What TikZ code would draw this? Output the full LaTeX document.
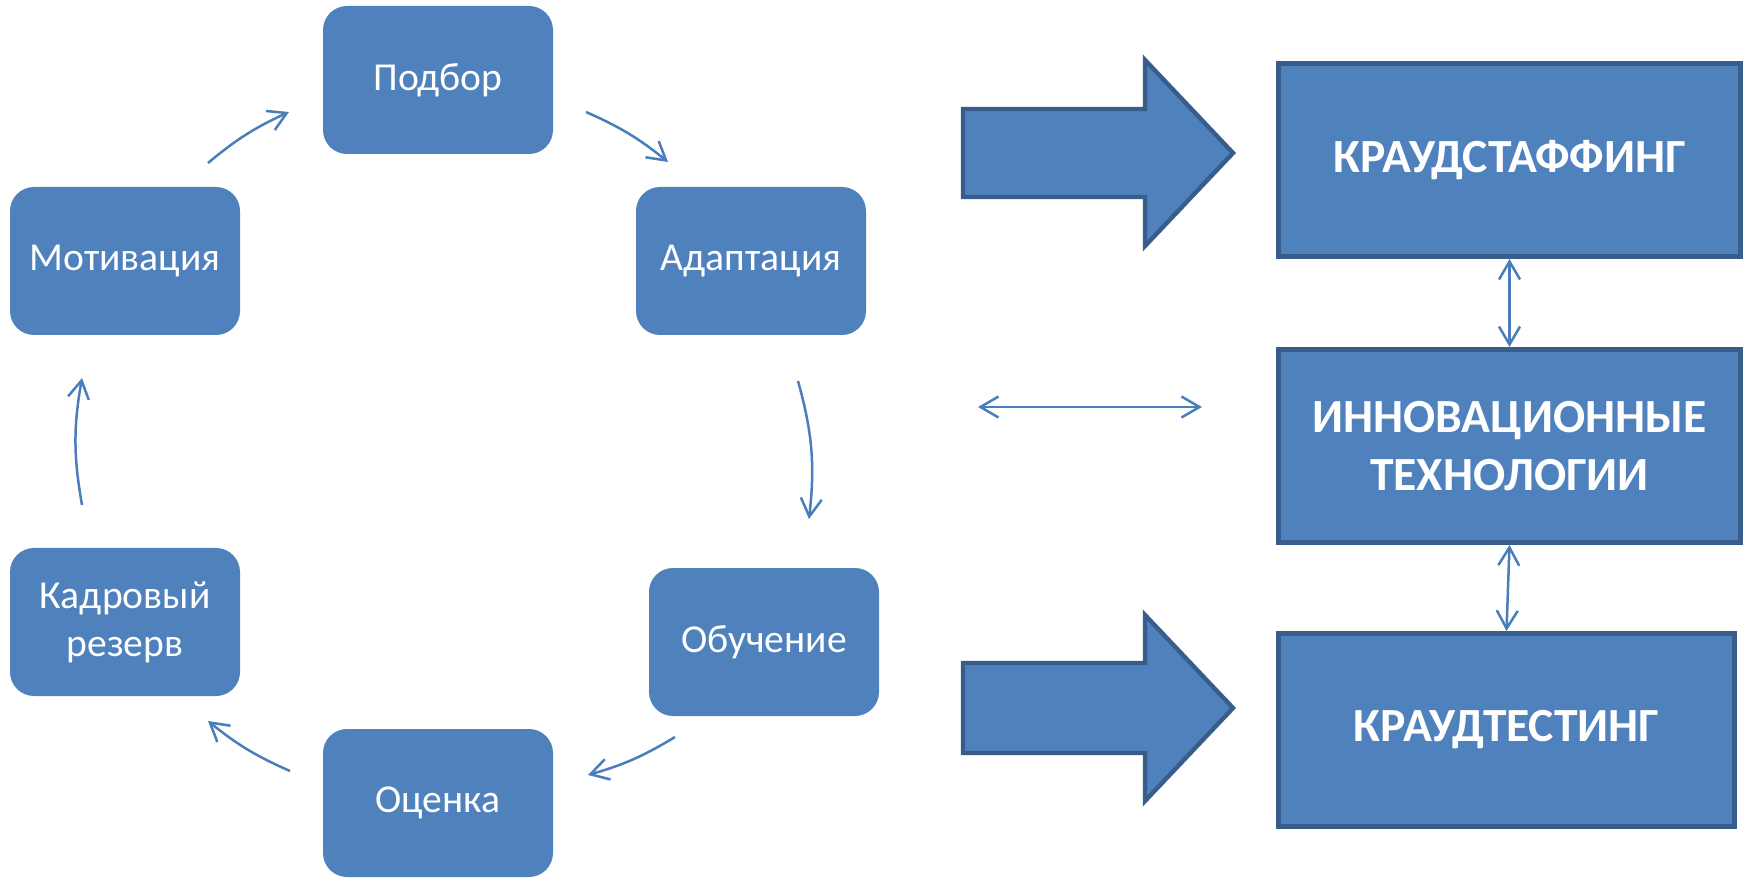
\documentclass[tikz,border=0pt]{standalone}
\usepackage{fontspec}
\setmainfont{Carlito}
\usetikzlibrary{arrows.meta}
\definecolor{boxfill}{HTML}{4F81BD}
\definecolor{boxline}{HTML}{385D8A}
\definecolor{conn}{HTML}{4A7EBB}
\tikzset{
  stage/.style={rounded corners=12pt, fill=boxfill, text=white, minimum width=115pt, minimum height=74pt,
    align=center, font=\fontsize{19.8pt}{24pt}\selectfont, inner sep=0pt},
  bigbox/.style={fill=boxfill, draw=boxline, line width=2.5pt, text=white, minimum height=96.5pt,
    align=center, font=\fontsize{23.8pt}{29pt}\selectfont\bfseries, inner sep=0pt},
  blockarrow/.style={fill=boxfill, draw=boxline, line width=2.2pt, line join=miter},
  cyc/.style={draw=conn, line width=1.25pt, -{Straight Barb[length=9pt,width=10.5pt]}},
  dbl/.style={draw=conn, line width=1.25pt, {Straight Barb[length=9pt,width=10.5pt]}-{Straight Barb[length=9pt,width=10.5pt]}}
}
\begin{document}
\begin{tikzpicture}[x=0.5pt,y=0.5pt]
\useasboundingbox (0,0) rectangle (1745,879);
% cycle stages
\node[stage] (pod) at (438,799) {Подбор};
\node[stage] (mot) at (125,618) {Мотивация};
\node[stage] (ada) at (751,618) {Адаптация};
\node[stage] (kad) at (125,257) {Кадровый\\резерв};
\node[stage] (obu) at (764,237) {Обучение};
\node[stage] (oce) at (438,76) {Оценка};
% arc end points
\coordinate (a1s) at (208,716); \coordinate (a1e) at (289,767);
\coordinate (a2s) at (586,767); \coordinate (a2e) at (668,717);
\coordinate (a3s) at (798,498); \coordinate (a3e) at (809,360);
\coordinate (a4s) at (675,142); \coordinate (a4e) at (588,104);
\coordinate (a5s) at (290,108); \coordinate (a5e) at (208,158);
\coordinate (a6s) at (82,374);  \coordinate (a6e) at (82,501);
\draw[cyc] (a1s) to[bend left=7.6] (a1e);
\draw[cyc] (a2s) to[bend left=7.6] (a2e);
\draw[cyc] (a3s) to[bend left=11] (a3e);
\draw[cyc] (a4s) to[bend left=7.6] (a4e);
\draw[cyc] (a5s) to[bend left=7.6] (a5e);
\draw[cyc] (a6s) to[bend left=10] (a6e);
% right boxes
\node[bigbox, minimum width=231pt] (cs) at (1509.5,719) {КРАУДСТАФФИНГ};
\node[bigbox, minimum width=231pt] (it) at (1509.5,433) {ИННОВАЦИОННЫЕ\\ТЕХНОЛОГИИ};
\node[bigbox, minimum width=228pt] (ct) at (1506.5,149) {КРАУДТЕСТИНГ};
\draw[dbl] (cs.south) -- (it.north);
\draw[dbl] (it.south) -- (ct.north);
% block arrows
\draw[blockarrow] (963,770) -- (1145,770) -- (1145,819) -- (1233,726) -- (1145,633) -- (1145,682) -- (963,682) -- cycle;
\draw[blockarrow] (963,216) -- (1145,216) -- (1145,264) -- (1233,171) -- (1145,78) -- (1145,126) -- (963,126) -- cycle;
% horizontal double arrow
\coordinate (hl) at (978,472);
\coordinate (hr) at (1202,472);
\draw[dbl] (hl) -- (hr);
\end{tikzpicture}
\end{document}
